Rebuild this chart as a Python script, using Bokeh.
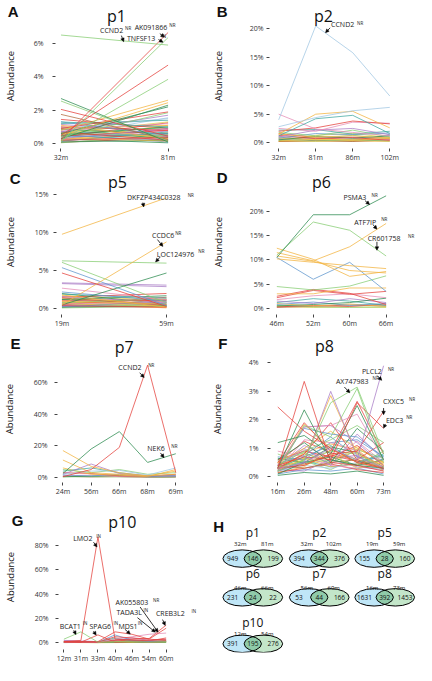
import math
import numpy as np
from bokeh.plotting import figure
from bokeh.layouts import column, row
from bokeh.models import (Label, Arrow, NormalHead, FixedTicker, Range1d,
                          PrintfTickFormatter, ColumnDataSource, LinearAxis)
from bokeh.embed import file_html
from bokeh.resources import INLINE

FONT = "Open Sans"
COL = dict(r="#e5403b", g="#86cc72", dg="#2b8a4e", o="#f3b33f", b="#5d95cc",
           lb="#9fc6e2", p="#a97cc6", pk="#e58bb6", t="#3ea7a0", br="#b0673b",
           y="#e6cf4a")

# ---------------- data ----------------
p1_times = ["32m", "81m"]
p1_vals = [
    [6.50, 5.90], [0.25, 6.65], [0.10, 6.35], [0.50, 4.70], [0.20, 3.85],
    [2.70, 0.10], [2.55, 0.15], [2.05, 0.45], [1.75, 0.25], [0.80, 2.60],
    [0.50, 2.45], [0.30, 2.30], [0.60, 2.20], [0.90, 1.90], [0.40, 1.85],
    [0.70, 1.70], [1.30, 1.00], [1.30, 0.50], [1.20, 1.40], [0.90, 1.50],
    [1.10, 0.30], [1.00, 0.80], [0.80, 1.20], [0.60, 1.30], [0.70, 0.20],
    [0.50, 1.00], [0.40, 0.60], [0.30, 0.90], [0.60, 0.50], [0.20, 0.40],
    [0.35, 0.15], [0.15, 0.70], [0.25, 0.30], [0.10, 0.20], [0.45, 0.80],
    [0.05, 0.50], [0.55, 0.10], [0.20, 1.10], [0.85, 0.60], [1.45, 0.90],
    [0.30, 0.55], [0.65, 0.35], [0.12, 0.85], [0.95, 0.25], [0.40, 1.25],
    [0.75, 0.45], [0.20, 0.65], [1.15, 0.70], [0.50, 0.20], [0.08, 0.35],
    [0.60, 0.95], [0.90, 1.10], [0.28, 0.05], [1.00, 0.40], [0.45, 1.55],
]
p1_cols = ["g", "r", "g", "r", "g", "dg", "g", "r", "br", "o",
           "o", "dg", "dg", "r", "g", "p", "t", "b", "t", "lb",
           "o", "r", "pk", "y", "r", "dg", "b", "p", "g", "r",
           "o", "t", "pk", "dg", "r", "g", "b", "o", "dg", "r",
           "o", "dg", "pk", "g", "r", "b", "y", "p", "t", "r",
           "g", "o", "dg", "pk", "lb"]
p1_yticks = [0, 2, 4, 6]

p2_times = ["32m", "81m", "86m", "102m"]
p2_vals = [
    [4.0, 20.5, 15.8, 8.2], [2.8, 4.4, 5.6, 6.2], [1.5, 5.0, 5.5, 2.6],
    [1.2, 4.2, 4.8, 1.6], [5.0, 2.4, 1.8, 1.2], [2.0, 2.6, 3.8, 3.3],
    [2.5, 2.0, 3.6, 3.4], [1.0, 2.2, 2.5, 1.4], [2.2, 2.3, 1.5, 2.0],
    [1.8, 1.2, 2.2, 1.0], [1.5, 1.0, 1.2, 0.8], [0.8, 1.6, 1.4, 1.7],
    [1.3, 0.7, 0.9, 0.4], [0.5, 1.1, 0.8, 1.2], [0.9, 0.5, 0.6, 0.9],
    [0.6, 0.8, 1.0, 0.5], [0.3, 0.6, 0.4, 0.8], [0.4, 0.3, 0.5, 0.3],
    [0.2, 0.4, 0.2, 0.5], [0.7, 0.9, 0.3, 0.6], [1.1, 0.4, 0.7, 1.0],
    [0.2, 0.2, 0.3, 0.2], [0.5, 0.7, 1.3, 0.6], [1.6, 0.9, 0.5, 0.7],
    [0.3, 1.3, 1.6, 0.9], [0.8, 0.4, 0.3, 1.4],
]
p2_cols = ["lb", "lb", "o", "t", "pk", "r", "pk", "p", "t", "g", "o",
           "b", "r", "dg", "y", "pk", "o", "g", "br", "y", "p", "o",
           "g", "r", "y", "t"]
p2_yticks = [0, 5, 10, 15, 20]

p5_times = ["19m", "59m"]
p5_vals = [
    [9.8, 14.6], [0.5, 8.8], [6.3, 6.0], [0.5, 4.7], [6.1, 0.8],
    [5.4, 0.4], [4.7, 0.3], [3.4, 3.1], [3.3, 2.9], [2.7, 1.2],
    [2.2, 1.0], [1.8, 0.2], [1.5, 2.0], [1.2, 1.7], [1.9, 1.4],
    [1.0, 0.6], [0.8, 1.3], [1.4, 0.5], [0.6, 0.9], [0.4, 0.2],
    [0.9, 0.3], [0.3, 0.7], [1.1, 1.1], [0.2, 0.4], [0.7, 0.1],
    [1.6, 0.8], [0.1, 0.3], [0.5, 1.5], [0.6, 0.3], [1.3, 0.9],
    [0.2, 1.0], [0.9, 0.5], [2.0, 0.6], [0.4, 0.8], [1.7, 1.1],
    [0.3, 0.15], [1.2, 0.35], [0.7, 1.2],
]
p5_cols = ["o", "o", "g", "dg", "g", "b", "r", "p", "p", "pk",
           "b", "o", "r", "dg", "t", "o", "g", "br", "pk", "r",
           "y", "b", "r", "dg", "o", "p", "g", "r", "g", "o",
           "b", "r", "dg", "p", "y", "pk", "t", "r"]
p5_yticks = [0, 5, 10, 15]

p6_times = ["46m", "52m", "60m", "66m"]
p6_vals = [
    [10.5, 19.3, 19.3, 23.2], [11.5, 9.8, 12.7, 17.5], [11.0, 17.8, 16.1, 10.8],
    [12.4, 10.1, 6.6, 7.6], [10.2, 9.5, 8.8, 8.2], [10.8, 9.7, 7.8, 7.3],
    [10.5, 6.0, 9.5, 3.5], [4.5, 3.8, 4.6, 6.7], [3.0, 3.0, 4.2, 4.2],
    [2.5, 3.9, 3.1, 0.8], [2.2, 3.7, 2.9, 3.5], [1.8, 2.6, 3.0, 2.2],
    [0.5, 0.8, 1.2, 2.1], [1.5, 1.0, 2.0, 1.2], [1.2, 2.0, 1.5, 0.6],
    [0.8, 1.3, 0.6, 1.0], [1.0, 0.5, 0.9, 0.4], [0.3, 0.6, 0.4, 0.9],
    [0.6, 0.3, 0.2, 0.3], [0.2, 0.4, 0.7, 0.5], [0.4, 0.2, 0.3, 0.2],
]
p6_cols = ["dg", "o", "g", "o", "o", "o", "b", "g", "o", "r", "r",
           "pk", "dg", "p", "t", "b", "o", "r", "g", "br", "y"]
p6_yticks = [0, 5, 10, 15, 20]

p7_times = ["24m", "56m", "66m", "68m", "69m"]
p7_vals = [
    [0.5, 5.0, 19.0, 71.0, 3.0], [2.5, 18.0, 29.0, 9.5, 15.0],
    [17.0, 7.0, 3.0, 1.0, 2.0], [11.0, 3.0, 2.0, 1.0, 4.0],
    [2.0, 8.5, 2.5, 1.0, 1.0], [2.0, 4.0, 4.5, 1.5, 6.0],
    [5.0, 3.0, 5.0, 2.0, 3.0], [4.0, 6.0, 3.0, 1.0, 1.0],
    [6.0, 2.0, 1.5, 0.5, 5.0], [3.0, 2.5, 1.0, 0.8, 2.0],
    [1.5, 1.0, 2.0, 0.5, 1.5], [1.0, 1.5, 0.5, 0.3, 0.8],
    [0.5, 0.8, 1.2, 0.4, 0.5], [0.3, 0.5, 0.3, 0.2, 0.4],
    [0.8, 0.3, 0.6, 0.1, 0.2],
]
p7_cols = ["r", "dg", "o", "o", "p", "lb", "g", "t", "o", "r", "b",
           "pk", "dg", "g", "br"]
p7_yticks = [0, 20, 40, 60]

p8_times = ["16m", "26m", "48m", "60m", "73m"]
p8_vals = [
    [0.30, 0.50, 1.00, 0.60, 3.90], [0.20, 0.60, 2.60, 3.15, 0.80],
    [0.30, 0.40, 0.80, 0.90, 2.30], [0.40, 0.70, 0.60, 2.60, 1.70],
    [0.30, 3.35, 0.50, 0.40, 0.20], [2.45, 1.60, 1.00, 0.50, 0.30],
    [0.30, 2.35, 0.60, 0.40, 0.30], [1.20, 1.45, 0.80, 2.50, 0.60],
    [0.20, 0.50, 3.00, 0.70, 0.30], [0.30, 0.60, 2.85, 0.80, 0.40],
    [0.20, 1.80, 1.40, 3.10, 0.50], [0.40, 1.75, 1.80, 2.20, 0.60],
    [0.50, 1.90, 0.90, 2.65, 0.80], [0.30, 1.85, 1.00, 0.50, 0.30],
    [0.40, 1.70, 1.50, 1.40, 0.70], [0.30, 1.75, 1.80, 1.20, 0.40],
    [0.30, 0.80, 1.90, 0.60, 1.20], [0.40, 0.90, 1.30, 1.80, 1.20],
    [0.60, 1.20, 0.50, 1.70, 0.90], [0.50, 1.00, 1.60, 1.00, 0.50],
    [0.20, 1.30, 1.20, 0.90, 0.30], [0.70, 0.60, 1.20, 1.30, 0.70],
    [0.40, 1.00, 0.40, 1.50, 0.60], [0.30, 0.70, 1.10, 0.50, 0.80],
    [0.60, 0.90, 0.70, 1.10, 0.40], [0.20, 0.60, 0.90, 0.80, 0.30],
    [0.50, 0.40, 0.80, 0.30, 0.50], [0.30, 0.80, 0.60, 0.90, 0.20],
    [0.10, 0.50, 0.70, 0.40, 0.60], [0.40, 0.30, 0.50, 0.60, 0.30],
    [0.20, 0.40, 0.30, 0.50, 0.20], [0.90, 0.70, 0.40, 0.30, 0.40],
    [0.15, 0.30, 0.45, 0.25, 0.15], [0.35, 0.55, 0.25, 0.70, 0.35],
    [0.25, 0.20, 0.60, 0.35, 0.25], [0.45, 0.65, 0.35, 0.45, 0.55],
    [0.10, 0.25, 0.20, 0.30, 0.10], [0.05, 0.15, 0.10, 0.20, 0.05],
    [0.25, 0.45, 0.75, 0.55, 0.35], [0.55, 0.85, 0.45, 0.95, 0.65],
    [0.35, 1.10, 0.65, 0.75, 0.25], [0.15, 0.35, 0.95, 0.60, 0.45],
    [0.65, 0.50, 1.05, 0.85, 0.35], [0.30, 0.95, 0.55, 1.25, 0.50],
    [0.45, 0.75, 1.40, 0.70, 0.60], [0.20, 0.55, 0.35, 0.45, 0.75],
    [0.50, 1.25, 0.85, 0.55, 0.30], [0.35, 0.65, 0.50, 1.05, 0.45],
    [0.80, 0.45, 0.60, 0.40, 0.90], [0.25, 0.85, 1.15, 0.95, 0.25],
]
p8_cols = ["p", "g", "r", "r", "r", "r", "dg", "dg", "p", "o",
           "g", "pk", "r", "o", "b", "p", "r", "g", "dg", "o",
           "pk", "b", "p", "t", "r", "g", "y", "o", "dg", "br",
           "lb", "pk", "r", "g", "p", "o", "b", "dg",
           "r", "g", "p", "o", "dg", "pk", "b", "t", "r", "y", "g", "o"]
p8_yticks = [0, 1, 2, 3, 4]

p10_times = ["12m", "31m", "33m", "40m", "46m", "54m", "60m"]
p10_vals = [
    [1.0, 2.0, 87.0, 3.0, 2.0, 2.0, 3.0], [3.0, 9.0, 0.5, 1.0, 1.0, 0.5, 1.0],
    [1.0, 0.5, 6.5, 0.5, 1.0, 0.5, 1.0], [1.0, 1.0, 1.0, 9.0, 7.0, 3.0, 2.0],
    [0.5, 0.5, 0.5, 5.0, 4.0, 3.0, 12.0], [0.5, 0.5, 0.5, 3.0, 5.0, 7.0, 8.0],
    [0.5, 0.5, 0.5, 2.0, 3.0, 3.5, 14.5], [0.5, 1.0, 0.5, 6.5, 2.0, 1.0, 1.5],
    [0.5, 0.5, 0.5, 4.0, 1.5, 1.0, 1.0], [2.0, 1.5, 1.0, 2.0, 4.0, 2.0, 2.5],
    [1.5, 1.0, 0.5, 1.5, 2.5, 1.5, 4.0], [0.5, 1.0, 0.2, 3.0, 1.0, 0.5, 0.8],
    [1.0, 0.5, 0.5, 1.0, 0.5, 1.5, 2.0], [0.2, 0.3, 0.2, 0.5, 0.3, 0.4, 0.5],
    [0.8, 0.6, 0.3, 0.8, 1.2, 0.8, 1.2], [0.3, 0.2, 0.1, 0.2, 0.3, 0.2, 0.3],
]
p10_cols = ["r", "g", "r", "r", "r", "pk", "r", "b", "t", "p", "r",
            "g", "o", "dg", "br", "y"]
p10_yticks = [0, 20, 40, 60, 80]

venn_names = ["p1", "p2", "p5", "p6", "p7", "p8", "p10"]
venn_t1 = ["32m", "32m", "19m", "46m", "56m", "16m", "12m"]
venn_t2 = ["81m", "102m", "59m", "66m", "69m", "73m", "54m"]
venn_only1 = [949, 394, 155, 231, 53, 1631, 391]
venn_both = [146, 344, 28, 24, 44, 392, 195]
venn_only2 = [199, 376, 160, 22, 166, 1453, 276]

# ---------------- layout helpers ----------------
W = 208
REF_W = 216
COL_LR = [(49, 214), (56, 215)]          # frame left/right per column (ref px)
ROW_TB = [(3, 152), (3, 152), (3, 157), (3, 159)]   # frame top/bottom per row
LETTER_W = {"A": 10.8, "B": 10.8, "C": 10.8, "D": 10.8, "E": 10.0,
            "F": 9.2, "G": 11.7}
TXT = "#111111"


def pct_w(v):
    return len(str(v)) * 4.0 + 5.8


def line_panel(letter, title, times, vals, cols, yticks, geom, annots,
               heads, h, ref_h, tick_standoff, colno, rowno, tick_in=False):
    first, last, zero, tv, ty = geom
    fl, fr = COL_LR[colno]
    ft, fb = ROW_TB[rowno]
    sx = W / REF_W
    sy = h / ref_h
    n = len(times)
    sp = (last - first) / (n - 1)
    ppu = (zero - ty) / tv
    bl = round(fl * sx)
    bb = round(fb * sy)

    def dx(px):
        return (px - first) / sp

    def dy(py):
        return (zero - py) / ppu

    def scr(px, py):
        return px * sx - bl, bb - py * sy

    p = figure(width=W, height=h, output_backend="svg", toolbar_location=None,
               x_range=Range1d(dx(fl), dx(fr)), y_range=Range1d(dy(fb), dy(ft)),
               min_border_left=bl, min_border_right=W - round(fr * sx),
               min_border_top=round(ft * sy), min_border_bottom=h - bb)
    p.outline_line_color = None
    p.grid.visible = False
    p.background_fill_color = "white"
    for ax in (p.xaxis[0], p.yaxis[0]):
        ax.axis_line_color = None
        ax.major_tick_out = 3
        ax.major_tick_in = 0
        ax.minor_tick_line_color = None
        ax.major_tick_line_color = "#444444"
        ax.major_label_text_font = FONT
        ax.major_label_text_font_size = "7px"
        ax.major_label_text_color = "#333333"
    p.xaxis[0].ticker = FixedTicker(ticks=list(range(n)))
    p.xaxis[0].major_label_overrides = {i: t for i, t in enumerate(times)}
    p.xaxis[0].major_label_standoff = 1
    if tick_in:
        p.xaxis[0].major_tick_out = 0
        p.xaxis[0].major_tick_in = 3
    p.yaxis[0].ticker = FixedTicker(ticks=yticks)
    p.yaxis[0].formatter = PrintfTickFormatter(format="%d%%")
    p.yaxis[0].major_label_standoff = tick_standoff

    lx, ly, tx, tyy, abx, aby = heads
    # outer left axis: panel letter (as its single tick label) + axis title
    e1 = 3 + tick_standoff + max(pct_w(v) for v in yticks)
    wl = LETTER_W[letter]
    s2 = bl - e1 - (lx * sx + wl)
    lab_h = 12.5
    s3 = lx * sx - (abx * sx + lab_h / 2)
    tick_v = round(dy(ly - 5.5), 4)
    ax2 = LinearAxis(ticker=FixedTicker(ticks=[tick_v]),
                     major_label_overrides={tick_v: letter},
                     axis_label="Abundance",
                     bounds=(dy(2 * aby - (ly - 5.5)), dy(ly - 6.5)))
    ax2.axis_line_color = None
    ax2.major_tick_line_color = None
    ax2.minor_tick_line_color = None
    ax2.major_tick_out = 0
    ax2.major_tick_in = 0
    ax2.major_label_standoff = int(round(s2))
    ax2.major_label_text_font = "Liberation Sans"
    ax2.major_label_text_font_style = "bold"
    ax2.major_label_text_font_size = "15px"
    ax2.major_label_text_color = TXT
    ax2.axis_label_standoff = int(round(s3))
    ax2.axis_label_text_font = FONT
    ax2.axis_label_text_font_style = "normal"
    ax2.axis_label_text_font_size = "9.5px"
    ax2.axis_label_text_color = TXT
    p.add_layout(ax2, "left")

    xs = [list(range(n)) for _ in vals][::-1]
    ys = [list(v) for v in vals][::-1]
    cs = [COL[c] for c in cols][::-1]
    src = ColumnDataSource(dict(xs=xs, ys=ys, c=cs))
    p.multi_line("xs", "ys", source=src, line_color="c", line_width=0.8,
                 line_alpha=0.95)

    def lab(px, py, text, **kw):
        x, y = scr(px, py)
        p.add_layout(Label(x=x, y=y, x_units="screen", y_units="screen",
                           text=text, **kw))

    lab(tx, tyy, title, text_font=FONT, text_font_size="16px",
        text_align="center", text_baseline="alphabetic", text_color=TXT)
    for (name, sup, nx, ny, ux, uy, ax0, ay0, ax1, ay1) in annots:
        lab(nx, ny, name, text_font=FONT, text_font_size="7px",
            text_baseline="middle", text_color="#222222")
        lab(ux, uy, sup, text_font=FONT, text_font_size="4.5px",
            text_baseline="middle", text_color="#222222")
        p.add_layout(Arrow(end=NormalHead(size=3.5, fill_color="black",
                                          line_color="black", line_width=0.5),
                           x_start=dx(ax0), y_start=dy(ay0), x_end=dx(ax1),
                           y_end=dy(ay1), line_width=0.8, line_color="black"))
    return p


pA = line_panel("A", "p1", p1_times, p1_vals, p1_cols, p1_yticks,
                (55, 172, 147, 6, 44),
                [("CCND2", "NR", 95, 31, 121, 28, 121, 36, 123.5, 42.3),
                 ("AK091866", "NR", 131, 28, 167, 25, 163, 34, 168, 37.5),
                 ("TNFSF13", "IN", 123, 39, 159, 36, 161.5, 40, 166.5, 42.8)],
                (3, 17, 112, 16, 9, 88), 166, 170, 9, 0, 0)
pB = line_panel("B", "p2", p2_times, p2_vals, p2_cols, p2_yticks,
                (66, 187, 146, 20, 29),
                [("CCND2", "NR", 120, 25, 147, 23, 122, 28, 117, 33)],
                (5, 17, 112, 16, 10, 85), 166, 170, 3, 1, 0)
pC = line_panel("C", "p5", p5_times, p5_vals, p5_cols, p5_yticks,
                (55, 170, 146, 15, 29),
                [("DKFZP434C0328", "NR", 122, 32, 185, 29, 144, 37, 145, 41.5),
                 ("CCDC6", "NR", 148, 70.7, 172, 68, 160, 75, 166, 82),
                 ("LOC124976", "NR", 153, 90, 196, 87, 163, 93, 158, 98)],
                (4, 18, 112, 16, 8, 87), 166, 170, 5, 0, 1)
pD = line_panel("D", "p6", p6_times, p6_vals, p6_cols, p6_yticks,
                (64, 183, 145.7, 20, 46),
                [("PSMA3", "NR", 133, 32, 162, 29, 160, 35, 165, 39),
                 ("ATF7IP", "NR", 144, 57, 172, 54, 169, 60, 173, 64.3),
                 ("CR601758", "NR", 158, 74, 200, 71, 173, 77.3, 173, 86)],
                (5, 17, 110, 16, 10, 85), 166, 170, 3, 1, 1)
pE = line_panel("E", "p7", p7_times, p7_vals, p7_cols, p7_yticks,
                (55, 180, 151.7, 60, 52.3),
                [("CCND2", "NR", 112, 39, 143, 36, 140, 42, 145, 47),
                 ("NEK6", "NR", 142, 122, 167, 119, 163, 126, 167, 131)],
                (3, 17, 118, 18, 6, 97), 166, 170, 7, 0, 2)
pF = line_panel("F", "p8", p8_times, p8_vals, p8_cols, p8_yticks,
                (64, 180, 151, 4, 31.7),
                [("PLCL2", "NR", 151, 43, 178, 40, 173, 45, 178, 50),
                 ("AX747983", "NR", 124, 53, 162, 50, 137, 57, 143, 63),
                 ("CXXC5", "NR", 173, 74, 200, 71, 180, 79, 180, 86),
                 ("EDC3", "NR", 176, 93, 197, 90, 182, 96, 180, 100)],
                (5, 17, 112, 17, 8, 97), 166, 170, 9, 1, 2)
pG = line_panel("G", "p10", p10_times, p10_vals, p10_cols, p10_yticks,
                (55, 169, 149, 80, 48.3),
                [("LMO2", "IN", 64, 42, 88, 39, 88, 45, 92, 50),
                 ("BCAT1", "IN", 50, 132, 74, 128, 66, 136, 68.5, 140.5),
                 ("SPAG6", "IN", 81, 132, 106, 128, 88, 137, 91, 141),
                 ("MDS1", "IN", 111, 132, 131, 128, 123, 135, 129, 140),
                 ("AK055803", "NR", 108, 108, 147, 105, 140, 112, 160, 138),
                 ("TADA3L", "IN", 109, 118, 137, 115, 137, 123, 157, 138),
                 ("CREB3L2", "IN", 150, 119, 187, 116, 165, 125, 168, 131)],
                (4, 28, 115, 25, 6, 88), 167, 171, 7, 0, 3, tick_in=True)

# ---------------- Venn panel ----------------
hH = 167
syH = hH / 171
vt, vb = ROW_TB[3]
pH = figure(width=W, height=hH, output_backend="svg", toolbar_location=None,
            x_range=Range1d(0, REF_W), y_range=Range1d(vb, vt),
            x_axis_type=None, y_axis_type=None, min_border_left=0,
            min_border_right=0, min_border_top=round(vt * syH),
            min_border_bottom=hH - round(vb * syH))
pH.outline_line_color = None
pH.grid.visible = False

vx = [46, 115, 183, 46, 115, 183, 46]
vrow = [0, 0, 0, 1, 1, 1, 2]
row_cy = [62, 102, 150]
row_title = [35, 77, 128.5]
row_lab = [47, 92, 140]
EW, EH, D = 40, 18, 11

cx = np.array(vx, dtype=float)
cy = np.array([row_cy[r] for r in vrow], dtype=float)
pH.ellipse(x=cx - D, y=cy, width=EW, height=EH, fill_color="#bfe6f7",
           line_color=None)
pH.ellipse(x=cx + D, y=cy, width=EW, height=EH, fill_color="#c3e6c9",
           line_color=None)
a, b = EW / 2, EH / 2
t0 = math.acos(D / a)
tA = np.linspace(-t0, t0, 40)
tB = np.linspace(math.pi - t0, math.pi + t0, 40)
lxs, lys = [], []
for x0, y0 in zip(cx, cy):
    lxs.append(list(x0 - D + a * np.cos(tA)) + list(x0 + D + a * np.cos(tB)))
    lys.append(list(y0 + b * np.sin(tA)) + list(y0 + b * np.sin(tB)))
pH.patches(lxs, lys, fill_color="#8fcba9", line_color=None)
pH.ellipse(x=cx - D, y=cy, width=EW, height=EH, fill_color=None,
           line_color="black", line_width=1)
pH.ellipse(x=cx + D, y=cy, width=EW, height=EH, fill_color=None,
           line_color="black", line_width=1)

for i in range(len(venn_names)):
    r = vrow[i]
    pH.add_layout(Label(x=vx[i], y=row_title[r], text=venn_names[i], text_font=FONT,
                        text_font_size="12px", text_align="center",
                        text_baseline="alphabetic", text_color=TXT))
    pH.add_layout(Label(x=vx[i] - 13, y=row_lab[r], text=venn_t1[i], text_font=FONT,
                        text_font_size="6px", text_align="center",
                        text_baseline="alphabetic", text_color=TXT))
    pH.add_layout(Label(x=vx[i] + 15, y=row_lab[r], text=venn_t2[i], text_font=FONT,
                        text_font_size="6px", text_align="center",
                        text_baseline="alphabetic", text_color=TXT))
    for off, val in ((-21, venn_only1[i]), (0, venn_both[i]), (21, venn_only2[i])):
        pH.add_layout(Label(x=vx[i] + off, y=row_cy[r], text=str(val), text_font=FONT,
                            text_font_size="6.5px", text_align="center",
                            text_baseline="middle", text_color=TXT))
pH.add_layout(Label(x=5, y=29, text="H", text_font="Liberation Sans",
                    text_font_style="bold", text_font_size="15px",
                    text_baseline="alphabetic", text_color=TXT))

layout = column(row(pA, pB), row(pC, pD), row(pE, pF), row(pG, pH))
open("out.html", "w").write(file_html(layout, INLINE))
